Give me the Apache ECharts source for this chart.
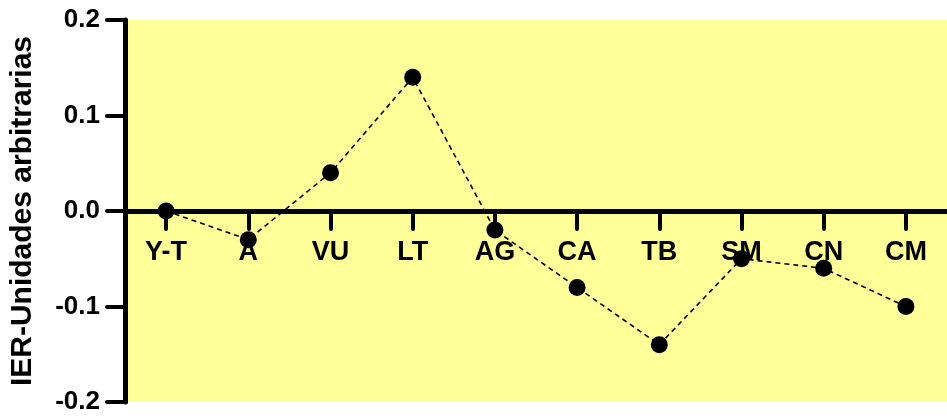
<!DOCTYPE html>
<html>
<head>
<meta charset="utf-8">
<script src="https://cdn.jsdelivr.net/npm/echarts@6/dist/echarts.min.js"></script>
<style>
  html, body { margin: 0; padding: 0; background: #fff; }
  #chart { width: 947px; height: 417px; }
</style>
</head>
<body>
<div id="chart"></div>
<script>
const categories = ['Y-T', 'A', 'VU', 'LT', 'AG', 'CA', 'TB', 'SM', 'CN', 'CM'];
const ierValues = [0, -0.03, 0.04, 0.14, -0.02, -0.08, -0.14, -0.05, -0.06, -0.10];
const yTickLabels = ['-0.2', '-0.1', '0.0', '0.1', '0.2'];
const yName = 'IER-Unidades arbitrarias';

const chart = echarts.init(document.getElementById('chart'));

const font = 'Liberation Sans, Arial, sans-serif';
const gridTop = 20, gridBottom = 15;
// plot height is 417 - 20 - 15 = 382, zero sits at the middle
const zeroOffset = -(417 - gridTop - gridBottom) / 2;

const option = {
  backgroundColor: '#ffffff',
  animation: false,
  grid: {
    left: 125,
    right: 0,
    top: gridTop,
    bottom: gridBottom,
    containLabel: false,
    outerBoundsMode: 'none',
    show: true,
    backgroundColor: '#FFFF99',
    borderWidth: 0
  },
  xAxis: {
    type: 'category',
    data: categories,
    boundaryGap: true,
    position: 'bottom',
    offset: zeroOffset,
    axisLine: {
      onZero: false,
      lineStyle: { color: '#000', width: 5 }
    },
    axisTick: {
      show: true,
      alignWithLabel: true,
      length: 18,
      lineStyle: { color: '#000', width: 4, cap: 'round' }
    },
    axisLabel: {
      margin: 28,
      color: '#000',
      fontFamily: font,
      fontWeight: 'bold',
      fontSize: 27
    },
    splitLine: { show: false }
  },
  yAxis: {
    type: 'value',
    min: -0.2,
    max: 0.2,
    interval: 0.1,
    name: yName,
    nameLocation: 'middle',
    nameRotate: 90,
    nameGap: 87,
    nameTextStyle: {
      color: '#000',
      fontFamily: font,
      fontWeight: 'bold',
      fontSize: 30
    },
    axisLine: {
      show: true,
      lineStyle: { color: '#000', width: 5 }
    },
    axisTick: {
      show: true,
      length: 18,
      lineStyle: { color: '#000', width: 4, cap: 'round' }
    },
    axisLabel: {
      margin: 25,
      color: '#000',
      fontFamily: font,
      fontWeight: 'bold',
      fontSize: 26,
      formatter: function (v) {
        return yTickLabels[Math.round((v + 0.2) / 0.1)];
      }
    },
    splitLine: { show: false }
  },
  series: [{
    type: 'line',
    data: ierValues,
    symbol: 'circle',
    symbolSize: 17,
    itemStyle: { color: '#000' },
    lineStyle: { color: '#000', width: 1.6, type: [5, 4] },
    z: 5
  }]
};

chart.setOption(option);
</script>
</body>
</html>
